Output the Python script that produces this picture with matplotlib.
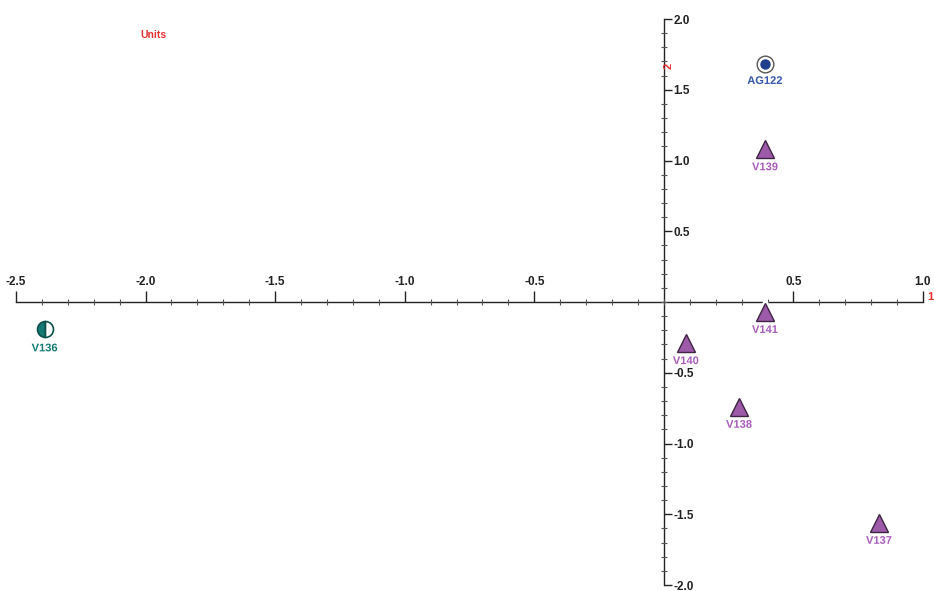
import matplotlib
matplotlib.use("Agg")
import matplotlib.pyplot as plt
from matplotlib.ticker import MultipleLocator, FixedLocator
import matplotlib.patheffects as pe

plt.rcParams['font.family'] = ['Liberation Sans', 'DejaVu Sans']

# Data
names = ["AG122", "V139", "V141", "V140", "V138", "V137", "V136"]
xs = [0.39, 0.39, 0.39, 0.085, 0.29, 0.83, -2.39]
ys = [1.68, 1.08, -0.07, -0.29, -0.74, -1.56, -0.19]
groups = ["ref", "tri", "tri", "tri", "tri", "tri", "half"]

x_ticks = [-2.5, -2.0, -1.5, -1.0, -0.5, 0.5, 1.0]
y_ticks = [-2.0, -1.5, -1.0, -0.5, 0.5, 1.0, 1.5, 2.0]

W, H = 934, 591
fig = plt.figure(figsize=(W / 100, H / 100), dpi=100)
x0p, x1p = 16, 923
y0p, y1p = 19, 585
ax = fig.add_axes([x0p / W, (H - y1p) / H, (x1p - x0p) / W, (y1p - y0p) / H])
ax.set_xlim(-2.5, 1.0)
ax.set_ylim(-2.0, 2.0)
ax.patch.set_alpha(0)

for s in ["left", "bottom"]:
    ax.spines[s].set_visible(False)
ax.spines["top"].set_position(("data", 0))
ax.spines["right"].set_position(("data", 0))
for s in ["top", "right"]:
    ax.spines[s].set_linewidth(1.0)
    ax.spines[s].set_color("#222222")
    ax.spines[s].set_zorder(1)

ax.xaxis.set_ticks_position("top")
ax.yaxis.set_ticks_position("right")
ax.xaxis.set_major_locator(FixedLocator(x_ticks))
ax.yaxis.set_major_locator(FixedLocator(y_ticks))
ax.xaxis.set_minor_locator(MultipleLocator(0.1))
ax.yaxis.set_minor_locator(MultipleLocator(0.1))
ax.set_xticklabels([f"{v:.1f}" for v in x_ticks])
ax.set_yticklabels([f"{v:.1f}" for v in y_ticks])
ax.tick_params(axis="x", which="major", direction="out", length=8, width=1,
               pad=2, labelsize=8.5, colors="#222222")
ax.tick_params(axis="y", which="major", direction="out", length=6, width=1,
               pad=1, labelsize=8.5, colors="#222222")
ax.tick_params(which="minor", direction="inout", length=4, width=0.8, colors="#555555")
for lbl in ax.get_xticklabels() + ax.get_yticklabels():
    lbl.set_fontweight("bold")

tri_face = "#9c5aa8"
tri_edge = "#3d2542"
tri_text = "#a85cbb"
for n, x, y, g in zip(names, xs, ys, groups):
    if g == "tri":
        ax.plot([x], [y], marker="^", ms=20, color="white", mec="white", zorder=3, clip_on=False)
        ax.plot([x], [y], marker="^", ms=13, mfc=tri_face, mec=tri_edge, mew=1.0,
                zorder=4, clip_on=False)
        tc = tri_text
        off = -13
    elif g == "ref":
        ax.plot([x], [y], marker="o", ms=12, mfc="white", mec="#555555", mew=1.0,
                zorder=4, clip_on=False)
        ax.plot([x], [y], marker="o", ms=6.5, mfc="#1f3f8c", mec="#1f3f8c",
                zorder=5, clip_on=False)
        tc = "#3456a8"
        off = -12
    else:
        ax.plot([x], [y], marker="o", ms=11.5, fillstyle="left", mfc="#127a72",
                mfcalt="white", mec="#0d4f4a", mew=1.2, zorder=4, clip_on=False)
        tc = "#147a72"
        off = -14
    ax.annotate(n, (x, y), xytext=(0, off), textcoords="offset points",
                ha="center", va="center", fontsize=8, fontweight="bold", color=tc,
                zorder=6, path_effects=[pe.withStroke(linewidth=2, foreground="white")])

fig.text(153 / W, 1 - 35 / H, "Units", color="#e53030", fontsize=7.5,
         fontweight="bold", ha="center", va="center")
fig.text(927 / W, 1 - 297 / H, "1", color="#e53030", fontsize=8,
         fontweight="bold", ha="left", va="center")
fig.text(669 / W, 1 - 66 / H, "2", color="#e53030", fontsize=8,
         fontweight="bold", ha="center", va="center", rotation=90)

fig.savefig("out.png", dpi=100, facecolor="white")
